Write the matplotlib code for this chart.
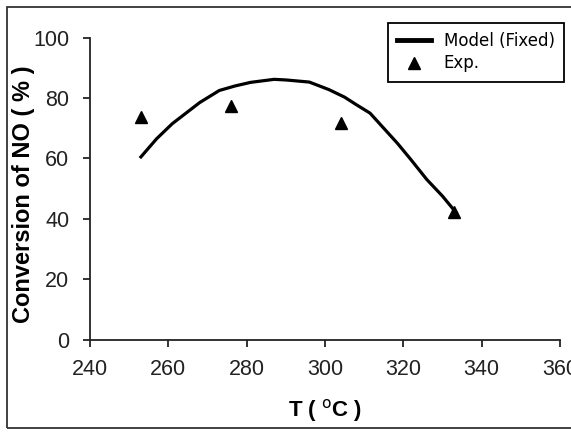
import matplotlib
matplotlib.use('Agg')
import matplotlib.pyplot as plt
from matplotlib.patches import Rectangle

# 모델 곡선
model_T = [253, 257, 261, 265, 268, 273, 277, 281, 287, 290, 296, 301, 305, 308, 311.5, 315, 318.5, 322, 326, 330, 333.5]
model_conv = [60.5, 66.5, 71.5, 75.5, 78.5, 82.5, 84.0, 85.2, 86.2, 86.0, 85.3, 82.8, 80.3, 77.8, 75.0, 70.0, 65.0, 59.5, 53.0, 47.5, 42.0]

# 실험 데이터
exp_T = [253, 276, 304, 333]
exp_conv = [73.7, 77.4, 71.7, 42.2]

xticks = [240, 260, 280, 300, 320, 340, 360]
yticks = [0, 20, 40, 60, 80, 100]

W, H = 571, 432
fig = plt.figure(figsize=(W / 100, H / 100), dpi=100)
ax = fig.add_axes([90 / W, 1 - 339.5 / H, 470 / W, 301.8 / H])

ax.plot(model_T, model_conv, color='black', lw=2.3, label='Model (Fixed)')
ax.plot(exp_T, exp_conv, ls='none', marker='^', ms=9, color='black', label='Exp.', clip_on=False)

ax.set_xlim(240, 360)
ax.set_ylim(0, 100)
ax.set_xticks(xticks)
ax.set_yticks(yticks)

for s in ['top', 'right']:
    ax.spines[s].set_visible(False)
for s in ['left', 'bottom']:
    ax.spines[s].set_linewidth(1.3)
    ax.spines[s].set_color('#222222')

ax.tick_params(direction='out', length=5, width=1.3, color='#222222')
ax.tick_params(axis='x', pad=9)
ax.tick_params(axis='y', pad=10)
for lab in ax.get_xticklabels() + ax.get_yticklabels():
    lab.set_family(['Liberation Sans', 'DejaVu Sans'])
    lab.set_fontsize(15.5)
    lab.set_color('#222222')

ax.set_xlabel(r'T ( $^{\mathrm{o}}$C )', family=['Liberation Sans', 'DejaVu Sans'], fontsize=16, fontweight='bold')
ax.xaxis.set_label_coords(0.5, -0.19)
ax.set_ylabel('Conversion of NO ( % )', family=['Liberation Sans', 'DejaVu Sans'], fontsize=17, fontweight='bold')
ax.yaxis.set_label_coords((35 - 90) / 470, 0.482)

leg = ax.legend(loc='upper right', bbox_to_anchor=(564 / W, 1 - 23 / H), bbox_transform=fig.transFigure,
                frameon=True, fancybox=False, edgecolor='black', framealpha=1,
                prop={'family': 'DejaVu Sans', 'size': 12}, handlelength=2.0, handletextpad=0.8,
                borderpad=0.55, labelspacing=0.25, borderaxespad=0)
leg.get_frame().set_linewidth(1.3)
leg.get_lines()[0].set_linewidth(3.5)

# 바깥 테두리
fig.patches.append(Rectangle((7 / W, 4 / H), 1.2, 421 / H, transform=fig.transFigure,
                             fill=False, edgecolor='#333333', lw=1.3))

fig.savefig('out.png', dpi=100)
